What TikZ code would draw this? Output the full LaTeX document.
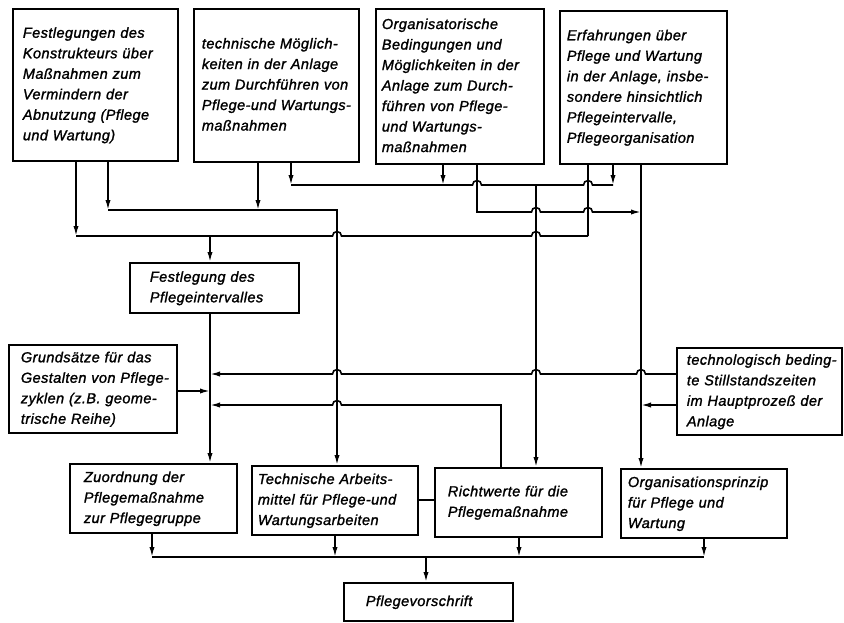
\documentclass[tikz,border=0pt]{standalone}
\usepackage{fontspec}
\setmainfont{Liberation Sans}[LetterSpace=3,FakeBold=1.4]
\usetikzlibrary{arrows.meta,calc}
\newcommand\tx[1]{\begin{tabular}{@{}l@{}}#1\end{tabular}}
\begin{document}
\begin{tikzpicture}[x=1pt,y=-1pt,
  box/.style={draw, line width=1.8pt, rectangle, anchor=north west, inner ysep=1pt,
    font=\fontsize{14.5pt}{20.5pt}\selectfont\itshape},
  con/.style={line width=1.6pt, line join=miter},
  arr/.style={con, -{Latex[length=10pt,width=5.2pt]}},
  hopR/.style args={#1/#2}{insert path={-- ($(#1 |- #2)+(-4.5,0)$) arc[start angle=180,end angle=360,radius=4.5]}},
  hopL/.style args={#1/#2}{insert path={-- ($(#1 |- #2)+(4.5,0)$) arc[start angle=0,end angle=-180,radius=4.5]}},
]
\useasboundingbox[fill=white] (0,0) rectangle (844,622);

% boxes
\node[box, minimum width=165pt, minimum height=152pt, text width=145pt, inner xsep=10pt] (b1) at (12,8)
  {\tx{Festlegungen des\\Konstrukteurs über\\Maßnahmen zum\\Vermindern der\\Abnutzung (Pflege\\und Wartung)}};
\node[box, minimum width=165pt, minimum height=153pt, text width=149pt, inner xsep=8pt] (b2) at (193,8)
  {\tx{technische Möglich-\\keiten in der Anlage\\zum Durchführen von\\Pflege-und Wartungs-\\maßnahmen}};
\node[box, minimum width=168pt, minimum height=155pt, text width=156pt, inner xsep=6pt] (b3) at (375,8)
  {\tx{Organisatorische\\Bedingungen und\\Möglichkeiten in der\\Anlage zum Durch-\\führen von Pflege-\\und Wartungs-\\maßnahmen}};
\node[box, minimum width=167pt, minimum height=153pt, text width=153pt, inner xsep=7pt] (b4) at (559,10)
  {\tx{Erfahrungen über\\Pflege und Wartung\\in der Anlage, insbe-\\sondere hinsichtlich\\Pflegeintervalle,\\Pflegeorganisation}};
\node[box, minimum width=169pt, minimum height=50pt, text width=129pt, inner xsep=20pt] (fest) at (129,262)
  {\tx{Festlegung des\\Pflegeintervalles}};
\node[box, minimum width=168pt, minimum height=88pt, text width=144pt, inner xsep=12pt] (grund) at (8,344)
  {\tx{Grundsätze für das\\Gestalten von Pflege-\\zyklen (z.B. geome-\\trische Reihe)}};
\node[box, minimum width=165pt, minimum height=87pt, text width=145pt, inner xsep=10pt] (techno) at (676,347)
  {\tx{technologisch beding-\\te Stillstandszeiten\\im Hauptprozeß der\\Anlage}};
\node[box, minimum width=167pt, minimum height=69pt, text width=139pt, inner xsep=14pt] (zuord) at (69,463)
  {\tx{Zuordnung der\\Pflegemaßnahme\\zur Pflegegruppe}};
\node[box, minimum width=166pt, minimum height=69pt, text width=154pt, inner xsep=6pt] (techarb) at (251,465)
  {\tx{Technische Arbeits-\\mittel für Pflege-und\\Wartungsarbeiten}};
\node[box, minimum width=167pt, minimum height=69pt, text width=141pt, inner xsep=13pt] (richt) at (434,467)
  {\tx{Richtwerte für die\\Pflegemaßnahme}};
\node[box, minimum width=166pt, minimum height=69pt, text width=152pt, inner xsep=7pt] (orga) at (620,468)
  {\tx{Organisationsprinzip\\für Pflege und\\Wartung}};
\node[box, minimum width=169pt, minimum height=38pt, text width=125pt, inner xsep=22pt] (pflege) at (343,582)
  {\tx{Pflegevorschrift}};

% columns and rows
\coordinate (cA) at (76,0);
\coordinate (cB) at (108,0);
\coordinate (cC) at (210,0);
\coordinate (cD) at (258,0);
\coordinate (cE) at (291,0);
\coordinate (cF) at (337,0);
\coordinate (cG) at (443,0);
\coordinate (cH) at (477,0);
\coordinate (cI) at (501,0);
\coordinate (cJ) at (536,0);
\coordinate (cK) at (588,0);
\coordinate (cL) at (613,0);
\coordinate (cM) at (641,0);
\coordinate (d0) at (426,0);
\coordinate (d1) at (152,0);
\coordinate (d2) at (335,0);
\coordinate (d3) at (519,0);
\coordinate (d4) at (704,0);
\coordinate (r185) at (0,185);
\coordinate (r210) at (0,210);
\coordinate (r212) at (0,212);
\coordinate (r236) at (0,236);
\coordinate (r374) at (0,374);
\coordinate (r391) at (0,391);
\coordinate (r405) at (0,405);
\coordinate (r500) at (0,500);
\coordinate (r557) at (0,557);

% B1 and B4 -> Festlegung des Pflegeintervalles
\draw[arr] (b1.south -| cA) -- (cA |- r236);
\draw[con] (cA |- r236) [hopR=cF/r236] [hopR=cJ/r236] -- (cK |- r236);
\draw[con] (b4.south -| cK) -- (cK |- r236);
\draw[arr] (cC |- r236) -- (fest.north -| cC);

% B1, B2 -> Technische Arbeitsmittel
\draw[arr] (b1.south -| cB) -- (cB |- r210);
\draw[arr] (b2.south -| cD) -- (cD |- r210);
\draw[arr] (cB |- r210) -- (cF |- r210) -- (techarb.north -| cF);

% B2, B3, B4 -> Richtwerte
\draw[arr] (b2.south -| cE) -- (cE |- r185);
\draw[arr] (b3.south -| cG) -- (cG |- r185);
\draw[arr] (b4.south -| cL) -- (cL |- r185);
\draw[con] (cE |- r185) [hopR=cH/r185] [hopR=cK/r185] -- (cL |- r185);
\draw[arr] (cJ |- r185) -- (richt.north -| cJ);

% B3, B4 -> Organisationsprinzip
\draw[arr] (b3.south -| cH) -- (cH |- r212) [hopR=cJ/r212] [hopR=cK/r212] -- (cM |- r212);
\draw[arr] (b4.south -| cM) -- (orga.north -| cM);

% technologisch bedingte Stillstandszeiten
\draw[arr] (techno.west |- r374) [hopL=cM/r374] [hopL=cJ/r374] [hopL=cF/r374] -- (cC |- r374);
\draw[arr] (techno.west |- r405) -- (cM |- r405);

% Richtwerte feedback, Grundsaetze
\draw[arr] (richt.north -| cI) -- (cI |- r405) [hopL=cF/r405] -- (cC |- r405);
\draw[arr] (grund.east |- r391) -- (cC |- r391);

% Festlegung -> Zuordnung
\draw[arr] (fest.south -| cC) -- (zuord.north -| cC);

% Technische Arbeitsmittel -- Richtwerte
\draw[con] (techarb.east |- r500) -- (richt.west |- r500);

% bottom bus
\draw[arr] (zuord.south -| d1) -- (d1 |- r557);
\draw[arr] (techarb.south -| d2) -- (d2 |- r557);
\draw[arr] (richt.south -| d3) -- (d3 |- r557);
\draw[arr] (orga.south -| d4) -- (d4 |- r557);
\draw[con] (d1 |- r557) -- (d4 |- r557);
\draw[arr] (d0 |- r557) -- (pflege.north -| d0);
\end{tikzpicture}
\end{document}
